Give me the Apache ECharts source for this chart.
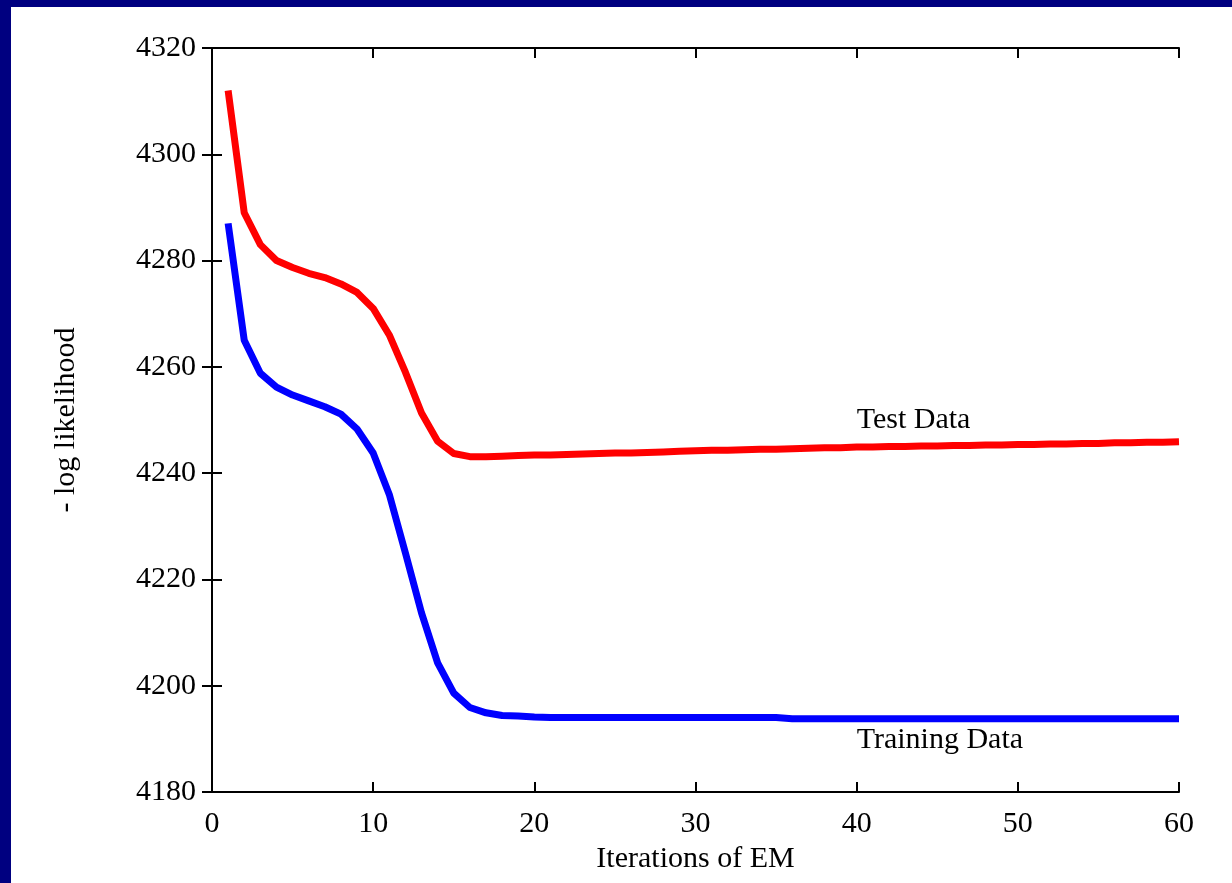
<!DOCTYPE html>
<html>
<head>
<meta charset="utf-8">
<script src="https://cdn.jsdelivr.net/npm/echarts@6/dist/echarts.min.js"></script>
<style>
  html, body { margin: 0; padding: 0; width: 1232px; height: 883px; overflow: hidden; background: #000080; }
  #chart { position: absolute; left: 11px; top: 7px; width: 1221px; height: 876px; background: #ffffff; }
</style>
</head>
<body>
<div id="chart"></div>
<script>
// ---- data ----
const iterations = [];
for (let i = 1; i <= 60; i++) iterations.push(i);

const testData = [
  4312, 4289, 4283, 4280, 4278.7, 4277.6, 4276.8, 4275.6, 4274, 4271,
  4266, 4259, 4251.3, 4246, 4243.7, 4243.1, 4243.1, 4243.2, 4243.3, 4243.4,
  4243.4, 4243.5, 4243.6, 4243.7, 4243.8, 4243.8, 4243.9, 4244.0, 4244.1, 4244.2,
  4244.3, 4244.3, 4244.4, 4244.5, 4244.5, 4244.6, 4244.7, 4244.8, 4244.8, 4244.9,
  4244.9, 4245.0, 4245.0, 4245.1, 4245.1, 4245.2, 4245.2, 4245.3, 4245.3, 4245.4,
  4245.4, 4245.5, 4245.5, 4245.6, 4245.6, 4245.7, 4245.7, 4245.8, 4245.8, 4245.9
];

const trainingData = [
  4287, 4265, 4258.8, 4256.2, 4254.7, 4253.6, 4252.5, 4251.1, 4248.3, 4243.8,
  4236, 4225, 4213.7, 4204.3, 4198.6, 4195.9, 4194.9, 4194.4, 4194.3, 4194.1,
  4194.0, 4194.0, 4194.0, 4194.0, 4194.0, 4194.0, 4194.0, 4194.0, 4194.0, 4194.0,
  4194.0, 4194.0, 4194.0, 4194.0, 4194.0, 4193.8, 4193.8, 4193.8, 4193.8, 4193.8,
  4193.8, 4193.8, 4193.8, 4193.8, 4193.8, 4193.8, 4193.8, 4193.8, 4193.8, 4193.8,
  4193.8, 4193.8, 4193.8, 4193.8, 4193.8, 4193.8, 4193.8, 4193.8, 4193.8, 4193.8
];

const seriesNames = ['Test Data', 'Training Data'];
const labelAnchors = { 'Test Data': [40, 4250], 'Training Data': [40, 4189.8] };

const xTicks = { min: 0, max: 60, interval: 10 };
const yTicks = { min: 4180, max: 4320, interval: 20 };
const xTitle = 'Iterations of EM';
const yTitle = '- log likelihood';

// ---- chart ----
const FONT = '"Liberation Serif", "Times New Roman", serif';
const pairs = vals => iterations.map((x, i) => [x, vals[i]]);

const axisLine = { show: true, lineStyle: { color: '#000', width: 2 } };
const axisTick = { show: true, inside: true, length: 10, lineStyle: { color: '#000', width: 2 } };

function annot(name) {
  return {
    symbol: 'circle', symbolSize: 0, silent: true,
    data: [{ coord: labelAnchors[name] }],
    label: {
      show: true, position: 'right', distance: 0,
      formatter: name, color: '#000', fontFamily: FONT, fontSize: 30
    }
  };
}

const chart = echarts.init(document.getElementById('chart'));
chart.setOption({
  animation: false,
  backgroundColor: '#ffffff',
  grid: { left: 201, right: 53, top: 41, bottom: 91, containLabel: false },
  xAxis: [
    {
      type: 'value', position: 'bottom', min: xTicks.min, max: xTicks.max, interval: xTicks.interval,
      name: xTitle, nameLocation: 'middle', nameGap: 45,
      nameTextStyle: { color: '#000', fontFamily: FONT, fontSize: 30 },
      axisLine, axisTick,
      axisLabel: { color: '#000', fontFamily: FONT, fontSize: 30, margin: 17, formatter: v => String(v) },
      splitLine: { show: false }
    },
    {
      type: 'value', position: 'top', min: xTicks.min, max: xTicks.max, interval: xTicks.interval,
      axisLine, axisTick, axisLabel: { show: false }, splitLine: { show: false }
    }
  ],
  yAxis: [
    {
      type: 'value', position: 'left', min: yTicks.min, max: yTicks.max, interval: yTicks.interval,
      name: yTitle, nameLocation: 'middle', nameGap: 131, nameRotate: 90,
      nameTextStyle: { color: '#000', fontFamily: FONT, fontSize: 30 },
      axisLine, axisTick,
      axisLabel: { color: '#000', fontFamily: FONT, fontSize: 30, margin: 16, formatter: v => String(v) },
      splitLine: { show: false }
    },
    {
      type: 'value', position: 'right', min: yTicks.min, max: yTicks.max, interval: yTicks.interval,
      axisLine, axisTick, axisLabel: { show: false }, splitLine: { show: false }
    }
  ],
  series: [
    {
      name: seriesNames[0], type: 'line', data: pairs(testData),
      showSymbol: false, symbol: 'none', smooth: false,
      lineStyle: { color: '#ff0000', width: 7, cap: 'butt', join: 'round' },
      markPoint: annot(seriesNames[0])
    },
    {
      name: seriesNames[1], type: 'line', data: pairs(trainingData),
      showSymbol: false, symbol: 'none', smooth: false,
      lineStyle: { color: '#0000ff', width: 7, cap: 'butt', join: 'round' },
      markPoint: annot(seriesNames[1])
    }
  ]
});
</script>
</body>
</html>
